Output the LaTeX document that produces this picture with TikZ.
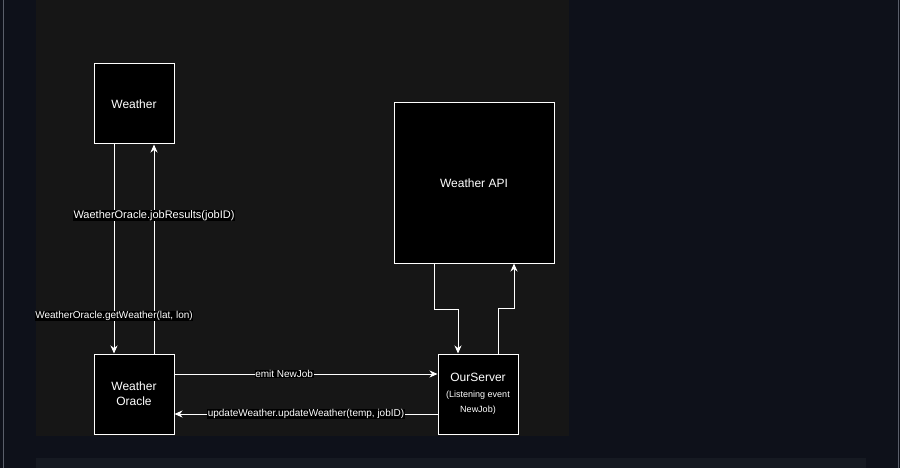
\documentclass[tikz,border=0pt]{standalone}
\usepackage{fontspec}
\setmainfont{Liberation Sans}
\usetikzlibrary{arrows.meta}
\definecolor{pagebg}{HTML}{0E111A}
\definecolor{panelbg}{HTML}{161616}
\definecolor{stripbg}{HTML}{161A22}
\definecolor{edgeline}{HTML}{5A5F6A}
\newcommand{\smalltxt}{\fontsize{9}{15}\selectfont}
\begin{document}
\begin{tikzpicture}[x=1pt,y=-1pt,
    box/.style={draw=white, fill=black, line width=1pt, text=white,
      font=\fontsize{12}{15}\selectfont, align=center, inner sep=0pt},
    flow/.style={draw=white, line width=1pt,
      -{Stealth[length=8pt,width=7pt,inset=2.5pt]}},
    lbl/.style={fill=black, text=white, inner sep=0.5pt,
      font=\fontsize{10}{12}\selectfont}]

  % Background
  \fill[pagebg] (0,0) rectangle (900,468);
  \useasboundingbox (0,0) rectangle (900,468);
  \fill[panelbg] (36,0) rectangle (569,436);
  \fill[stripbg] (36,458) rectangle (866,468);
  \draw[edgeline, line width=1pt] (3.5,0) -- (3.5,468);
  \draw[edgeline, line width=1pt] (898.5,0) -- (898.5,468);

  % Boxes
  \node[box, minimum size=80pt] (weather) at (134,104) {Weather};
  \node[box, minimum size=80pt] (oracle) at (134,394) {Weather\\Oracle};
  \node[box, minimum size=160pt] (api) at (474,183) {Weather API};
  \node[box, minimum size=80pt] (server) at (478,394)
    {OurServer\\[1pt]{\smalltxt (Listening event}\\{\smalltxt NewJob)}};

  % Weather <-> Oracle
  \draw[flow] ([xshift=-20pt]weather.south) -- ([xshift=-20pt]oracle.north);
  \draw[flow] ([xshift=20pt]oracle.north) -- ([xshift=20pt]weather.south);
  \path ([xshift=-20pt]weather.south) -- ([xshift=-20pt]oracle.north)
    node[lbl, pos=0.82] {WeatherOracle.getWeather(lat, lon)};
  \path ([xshift=20pt]oracle.north) -- ([xshift=20pt]weather.south)
    node[lbl, pos=0.66, font=\fontsize{11}{13}\selectfont] {WaetherOracle.jobResults(jobID)};

  % Oracle <-> OurServer
  \draw[flow] ([yshift=20pt]oracle.east) -- ([yshift=20pt]server.west)
    node[lbl, pos=0.417] {emit NewJob};
  \draw[flow] ([yshift=-20pt]server.west) -- ([yshift=-20pt]oracle.east)
    node[lbl, pos=0.5] {updateWeather.updateWeather(temp, jobID)};

  % API <-> OurServer
  \draw[flow] ([xshift=-40pt]api.south) -- ++(0,46) -| ([xshift=-20pt]server.north);
  \draw[flow] ([xshift=20pt]server.north) -- ++(0,-45) -| ([xshift=40pt]api.south);

\end{tikzpicture}
\end{document}
